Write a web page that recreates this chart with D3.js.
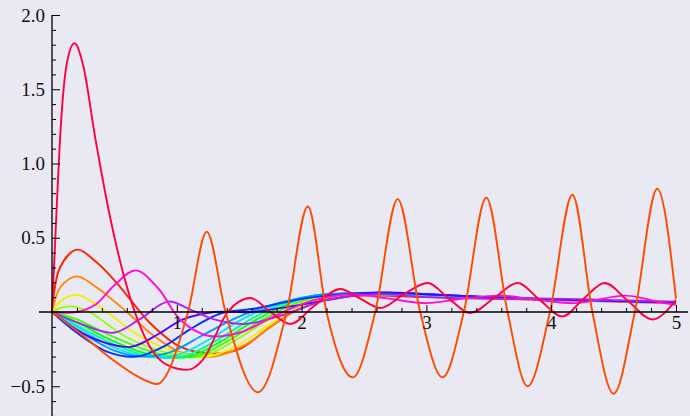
<!DOCTYPE html>
<html>
<head>
<meta charset="utf-8">
<script src="https://cdn.jsdelivr.net/npm/d3@7"></script>
<style>
  body { margin: 0; background: #e9e9f3; }
  svg { display: block; font-family: "Liberation Serif", "Times New Roman", Times, serif; }
</style>
</head>
<body>
<svg id="chart" width="690" height="416"></svg>
<script>
// tick labels
var xTickValues = [1, 2, 3, 4, 5];
var xTickLabels = ["1", "2", "3", "4", "5"];
var yTickValues = [2.0, 1.5, 1.0, 0.5, -0.5];
var yTickLabels = ["2.0", "1.5", "1.0", "0.5", "\u22120.5"];

// series as [x, y]
var crimson = [[0,0],[0.04,0.75],[0.064,1.16],[0.12,1.68],[0.18,1.81],[0.25,1.66],[0.345,1.18],[0.465,0.64],[0.585,0.215],[0.785,-0.235],[0.93,-0.36],[1.08,-0.39],[1.21,-0.32],[1.40,-0.01],[1.59,0.094],[1.75,0.0],[1.91,-0.08],[2.1,0.04],[2.31,0.155],[2.47,0.09],[2.63,0.027],[2.82,0.12],[3.01,0.195],[3.18,0.09],[3.35,-0.007],[3.55,0.1],[3.73,0.195],[3.91,0.08],[4.09,-0.03],[4.26,0.09],[4.43,0.195],[4.62,0.07],[4.81,-0.05],[5,0.08]];
var red = [[0,0],[0.064,0.30],[0.2,0.42],[0.35,0.34],[0.52,0.195],[0.785,-0.074],[1.03,-0.235],[1.3,-0.28],[1.5,-0.25],[1.75,-0.1],[2.0,0.03],[2.3,0.1],[2.6,0.11],[3.0,0.1],[3.5,0.09],[4,0.08],[4.5,0.07],[5,0.06]];
var orange = [[0,0],[0.07,0.17],[0.2,0.24],[0.35,0.17],[0.6,0],[0.8,-0.15],[1.03,-0.27],[1.3,-0.3],[1.55,-0.22],[1.8,-0.07],[2.0,0.03],[2.3,0.1],[2.6,0.12],[3,0.11],[3.5,0.1],[4,0.085],[4.5,0.075],[5,0.065]];
var yellow = [[0,0],[0.08,0.08],[0.2,0.114],[0.32,0.07],[0.44,0],[0.7,-0.16],[1.0,-0.27],[1.25,-0.3],[1.5,-0.22],[1.75,-0.08],[1.95,0.02],[2.2,0.1],[2.5,0.12],[3,0.11],[3.5,0.1],[4,0.085],[4.5,0.075],[5,0.065]];
var chartreuse = [[0,0],[0.08,0.03],[0.18,0.036],[0.3,0],[0.6,-0.17],[0.95,-0.28],[1.2,-0.3],[1.45,-0.2],[1.7,-0.07],[1.9,0.02],[2.2,0.11],[2.5,0.12],[3,0.11],[3.5,0.1],[4,0.085],[4.5,0.075],[5,0.065]];
var green = [[0,0],[0.2,-0.05],[0.5,-0.17],[0.85,-0.28],[1.15,-0.3],[1.4,-0.2],[1.65,-0.07],[1.85,0.02],[2.15,0.11],[2.5,0.12],[3,0.11],[3.5,0.1],[4,0.085],[4.5,0.075],[5,0.065]];
var lime = [[0,0],[0.2,-0.07],[0.5,-0.2],[0.8,-0.29],[1.1,-0.3],[1.35,-0.2],[1.6,-0.07],[1.8,0.02],[2.1,0.11],[2.5,0.12],[3,0.11],[3.5,0.1],[4,0.085],[4.5,0.075],[5,0.065]];
var spring = [[0,0],[0.2,-0.09],[0.5,-0.22],[0.78,-0.3],[1.05,-0.3],[1.3,-0.2],[1.55,-0.07],[1.75,0.02],[2.1,0.11],[2.5,0.125],[3,0.11],[3.5,0.1],[4,0.085],[4.5,0.075],[5,0.065]];
var cyan = [[0,0],[0.2,-0.1],[0.5,-0.24],[0.75,-0.3],[1.0,-0.29],[1.25,-0.19],[1.5,-0.06],[1.7,0.02],[2.1,0.11],[2.5,0.125],[3,0.11],[3.5,0.1],[4,0.085],[4.5,0.075],[5,0.065]];
var azure = [[0,0],[0.2,-0.12],[0.5,-0.26],[0.72,-0.3],[0.95,-0.27],[1.2,-0.16],[1.45,-0.05],[1.65,0.02],[2.1,0.11],[2.6,0.13],[3,0.12],[3.5,0.1],[4,0.085],[4.5,0.075],[5,0.065]];
var blue = [[0,0],[0.2,-0.14],[0.45,-0.27],[0.68,-0.3],[0.9,-0.23],[1.1,-0.12],[1.35,-0.01],[1.6,0.02],[2.1,0.1],[2.6,0.13],[3,0.12],[3.5,0.1],[4,0.085],[4.5,0.075],[5,0.065]];
var violet = [[0,0],[0.2,-0.12],[0.4,-0.2],[0.63,-0.235],[0.85,-0.15],[1.05,-0.05],[1.3,0.0],[1.6,0.0],[2.0,0.05],[2.6,0.13],[3,0.12],[3.5,0.1],[4,0.085],[4.5,0.075],[5,0.065]];
var purple = [[0,0],[0.2,-0.07],[0.49,-0.14],[0.7,-0.05],[0.93,0.07],[1.1,0.02],[1.3,-0.05],[1.55,-0.08],[1.85,-0.02],[2.2,0.08],[2.6,0.12],[3,0.1],[3.5,0.09],[4,0.09],[4.5,0.08],[5,0.07]];
var magenta = [[0,0],[0.2,0.0],[0.35,0.05],[0.5,0.18],[0.67,0.28],[0.85,0.16],[1.03,-0.054],[1.25,-0.16],[1.5,-0.14],[1.8,-0.02],[2.1,0.08],[2.4,0.12],[2.7,0.09],[3.0,0.06],[3.3,0.09],[3.6,0.11],[3.9,0.08],[4.2,0.06],[4.6,0.11],[4.9,0.06],[5,0.05]];
var bigWave = [[0,0],[0.25,-0.16],[0.5,-0.33],[0.7,-0.44],[0.84,-0.485],[1.09,0],[1.24,0.54],[1.39,0],[1.65,-0.54],[1.88,0],[2.05,0.71],[2.2,0],[2.41,-0.44],[2.59,0],[2.77,0.76],[2.95,0],[3.13,-0.44],[3.3,0],[3.48,0.77],[3.65,0],[3.81,-0.5],[3.99,0],[4.17,0.79],[4.33,0],[4.5,-0.55],[4.67,0],[4.85,0.83],[5,0.09]];

var series = [
  {name: "red", color: "#ff2200", values: red},
  {name: "orange", color: "#ff8800", values: orange},
  {name: "yellow", color: "#f5f000", values: yellow},
  {name: "chartreuse", color: "#99ff00", values: chartreuse},
  {name: "green", color: "#44ff00", values: green},
  {name: "lime", color: "#00ff22", values: lime},
  {name: "spring", color: "#00ff88", values: spring},
  {name: "cyan", color: "#00e5ff", values: cyan},
  {name: "azure", color: "#0099ff", values: azure},
  {name: "blue", color: "#0033ff", values: blue},
  {name: "violet", color: "#5500ff", values: violet},
  {name: "purple", color: "#b020f0", values: purple},
  {name: "magenta", color: "#ff10d0", values: magenta}
];

var dimensions = {
  width: 690,
  height: 416
};

var svg = d3.select("#chart");

var xScale = d3.scaleLinear().domain([0, 5]).range([52, 676]);
var yScale = d3.scaleLinear().domain([0, 2]).range([312, 15]);

// curves
var line = d3.line()
  .x(d => xScale(d[0]))
  .y(d => yScale(d[1]))
  .curve(d3.curveCatmullRom.alpha(0.5));

svg.append("g")
  .selectAll("path")
  .data(series)
  .enter()
  .append("path")
  .attr("d", d => line(d.values))
  .attr("fill", "none")
  .attr("stroke", d => d.color)
  .attr("stroke-width", 1.9);

// crimson and the big oscillating one go through their extremes, monotone keeps peaks round
var peakLine = d3.line()
  .x(d => xScale(d[0]))
  .y(d => yScale(d[1]))
  .curve(d3.curveMonotoneX);

svg.append("path")
  .attr("d", peakLine(crimson))
  .attr("fill", "none")
  .attr("stroke", "#ff0040")
  .attr("stroke-width", 1.9);

svg.append("path")
  .attr("d", peakLine(bigWave))
  .attr("fill", "none")
  .attr("stroke", "#ff4a00")
  .attr("stroke-width", 1.9);

// x axis, ticks pointing up
var xMinor = d3.range(1, 26).map(i => i * 0.2).filter(v => Math.abs(v - Math.round(v)) > 1e-6);
var xAxisG = svg.append("g").attr("transform", `translate(0,${yScale(0)})`);
xAxisG.call(d3.axisBottom(xScale).tickValues(xMinor).tickSize(-4).tickFormat(""));
xAxisG.append("g").call(d3.axisBottom(xScale).tickValues(xTickValues).tickSize(-7).tickPadding(4)
  .tickFormat((d, i) => xTickLabels[i]));
xAxisG.selectAll(".domain").remove();
svg.append("line")
  .attr("x1", 39).attr("x2", 688)
  .attr("y1", yScale(0)).attr("y2", yScale(0))
  .attr("stroke", "#000").attr("stroke-width", 1.3);

// y axis, ticks pointing right
var yMinor = d3.range(-7, 21).map(i => i * 0.1).filter(v => Math.abs(v * 2 - Math.round(v * 2)) > 1e-6);
var yAxisG = svg.append("g").attr("transform", `translate(${xScale(0)},0)`);
yAxisG.call(d3.axisLeft(yScale).tickValues(yMinor).tickSize(-4).tickFormat(""));
yAxisG.append("g").call(d3.axisLeft(yScale).tickValues(yTickValues).tickSize(-8).tickPadding(7)
  .tickFormat((d, i) => yTickLabels[i]));
yAxisG.selectAll(".domain").remove();
svg.append("line")
  .attr("x1", xScale(0)).attr("x2", xScale(0))
  .attr("y1", yScale(2)).attr("y2", dimensions.height)
  .attr("stroke", "#000").attr("stroke-width", 1.3);

svg.selectAll(".tick line").attr("stroke", "#000").attr("stroke-width", 1);
svg.selectAll("g").attr("font-family", "Liberation Serif").attr("font-size", 19);
svg.selectAll(".tick text").attr("fill", "#111");
</script>
</body>
</html>
